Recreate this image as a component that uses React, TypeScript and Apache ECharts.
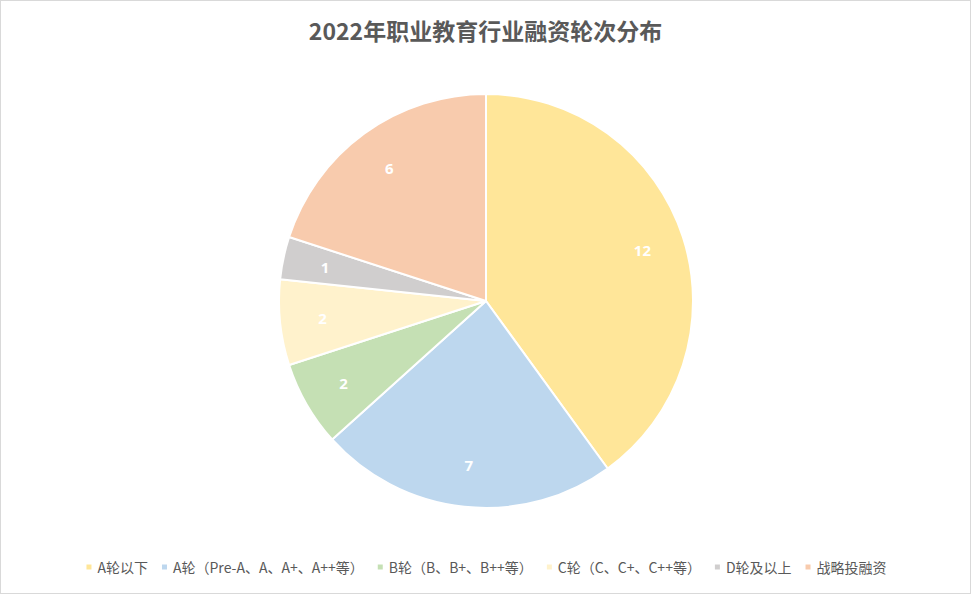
import React, { useEffect, useRef } from 'react';
import * as echarts from 'echarts';

const title = '2022年职业教育行业融资轮次分布';
const categories = [
  'A轮以下',
  'A轮（Pre-A、A、A+、A++等）',
  'B轮（B、B+、B++等）',
  'C轮（C、C+、C++等）',
  'D轮及以上',
  '战略投融资',
];
const counts = [12, 7, 2, 2, 1, 6];
const colors = ['#FFE699', '#BDD7EE', '#C5E0B4', '#FFF2CC', '#D0CECE', '#F8CBAD'];

const R = 207;

const App: React.FC = () => {
  const chartRef = useRef<HTMLDivElement>(null);

  useEffect(() => {
    document.body.style.margin = '0';
    if (!chartRef.current) return;
    const chart = echarts.init(chartRef.current, undefined, { renderer: 'svg' });

    const data = categories.map((name, i) => ({
      name,
      value: counts[i],
      itemStyle: { color: colors[i] },
    }));

    const option: echarts.EChartsOption = {
      animation: false,
      backgroundColor: '#fff',
      color: colors,
      title: {
        text: title,
        left: 'center',
        top: 12,
        textStyle: {
          fontFamily: 'Noto Sans CJK SC',
          fontSize: 23,
          fontWeight: 'bold',
          color: '#595959',
        },
      },
      legend: {
        bottom: 14,
        left: 'center',
        icon: 'rect',
        itemWidth: 7,
        itemHeight: 7,
        itemGap: 12,
        data: categories,
        textStyle: {
          fontFamily: 'Noto Sans CJK SC',
          fontSize: 14,
          color: '#595959',
        },
      },
      series: [
        {
          type: 'pie',
          center: [485, 300],
          radius: [0, R],
          startAngle: 90,
          clockwise: true,
          silent: true,
          label: { show: false },
          labelLine: { show: false },
          itemStyle: { borderColor: '#fff', borderWidth: 2 },
          data,
        },
        {
          // transparent ring used only to place the value labels further out
          type: 'pie',
          center: [485, 300],
          radius: [R * 0.56, R],
          startAngle: 90,
          clockwise: true,
          silent: true,
          itemStyle: { color: 'transparent' },
          label: {
            show: true,
            position: 'inside',
            formatter: '{c}',
            color: '#fff',
            fontSize: 15,
            fontWeight: 'bold',
            fontFamily: 'Noto Sans',
          },
          labelLine: { show: false },
          data: categories.map((name, i) => ({ name, value: counts[i] })),
        },
      ],
    };

    chart.setOption(option);
    return () => {
      chart.dispose();
    };
  }, []);

  return (
    <div
      ref={chartRef}
      style={{
        width: 971,
        height: 594,
        boxSizing: 'border-box',
        border: '1px solid #d9d9d9',
      }}
    ></div>
  );
};

export default App;
